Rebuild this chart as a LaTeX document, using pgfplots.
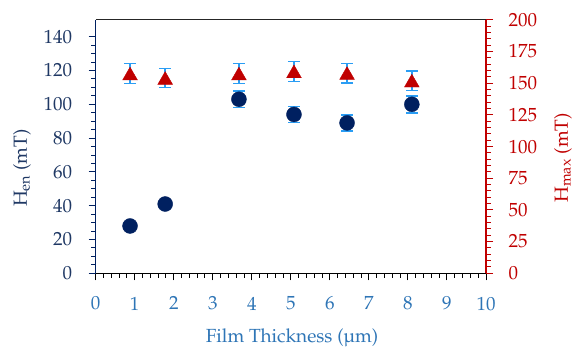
\documentclass[border=0pt]{standalone}
\usepackage[T1]{fontenc}
\usepackage{mathpazo}
\usepackage{textcomp}
\usepackage{pgfplots}
\pgfplotsset{compat=1.18}
\definecolor{navy}{HTML}{002060}
\definecolor{navytxt}{HTML}{1F3864}
\definecolor{xblue}{HTML}{2E75B6}
\definecolor{dred}{HTML}{C00000}
\definecolor{ebar}{HTML}{2A9DF4}
\newcommand\ff{\fontsize{19}{23}\selectfont}
\pgfplotstableread{
x    y    e
0.88 28   2
1.78 41   2
3.67 103  5
5.08 94   4.8
6.44 89   4.8
8.10 100  5
}\hen
\pgfplotstableread{
x    y     e
0.88 157.5 7.9
1.78 154.0 7.5
3.67 157.5 7.9
5.08 159.2 8.0
6.44 157.9 7.8
8.10 151.9 7.8
}\hmax
\begin{document}
\begin{tikzpicture}
\begin{axis}[
  at={(0,0)}, anchor=south west,
  scale only axis, width=390.3pt, height=253.5pt,
  xmin=0, xmax=10, ymin=0, ymax=150,
  axis y line*=left, axis x line*=bottom,
  xtick={0,1,...,10}, ytick={0,20,...,140},
  minor x tick num=4, minor y tick num=3,
  tick align=outside,
  major tick length=7pt, minor tick length=4.5pt,
  x axis line style={black, -, line width=1.2pt},
  y axis line style={navy, -, line width=1.2pt},
  xtick style={black, line width=1pt},
  ytick style={navy, line width=1pt},
  xticklabel style={xblue, font=\ff, yshift=-13pt},
  yticklabel style={navytxt, font=\ff, xshift=-13pt},
  xlabel={Film Thickness (\textmu m)},
  ylabel={H\textsubscript{en} (mT)},
  xlabel style={xblue, font=\ff, at={(axis description cs:0.503,-0.255)}, anchor=center},
  ylabel style={navytxt, font=\ff, at={(axis description cs:-0.189,0.415)}, anchor=center},
  clip=false,
]
\addplot[only marks, mark=*, mark size=7.5pt, color=navy,
  mark options={fill=navy, draw=navy},
  error bars/.cd, y dir=both, y explicit,
  error bar style={ebar, line width=1.5pt},
  error mark options={ebar, rotate=90, mark size=6pt, line width=1.5pt}]
  table[x=x, y=y, y error=e] {\hen};
\end{axis}
\begin{axis}[
  at={(0,0)}, anchor=south west,
  scale only axis, width=390.3pt, height=253.5pt,
  xmin=0, xmax=10, ymin=0, ymax=200,
  axis y line*=right, axis x line=none,
  ytick={0,25,...,200}, minor y tick num=4,
  tick align=outside,
  major tick length=7pt, minor tick length=4.5pt,
  y axis line style={dred, -, line width=1.2pt},
  ytick style={dred, line width=1pt},
  yticklabel style={dred, font=\ff, xshift=12pt},
  ylabel={H\textsubscript{max} (mT)},
  ylabel style={dred, font=\ff, at={(axis description cs:1.197,0.455)}, anchor=center},
  clip=false,
]
\addplot[only marks, mark=triangle*, mark size=8.5pt, color=dred,
  mark options={fill=dred, draw=dred, yshift=-2pt},
  error bars/.cd, y dir=both, y explicit,
  error bar style={ebar, line width=1.5pt},
  error mark options={ebar, rotate=90, mark size=6pt, line width=1.5pt}]
  table[x=x, y=y, y error=e] {\hmax};
\draw[black!85, line width=1.2pt] (rel axis cs:0,1) -- (rel axis cs:1,1);
\end{axis}
\pgfresetboundingbox
\path (-95.7pt,-75.7pt) rectangle (480.3pt,273.3pt);
\end{tikzpicture}
\end{document}
